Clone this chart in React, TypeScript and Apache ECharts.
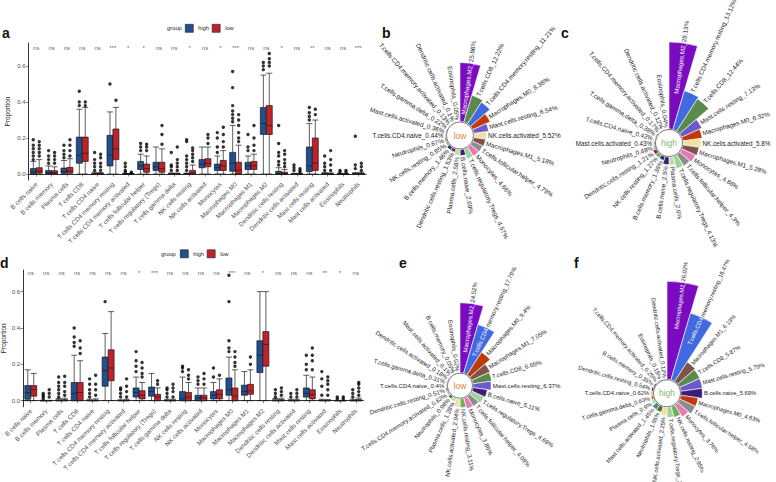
import React, { useEffect, useRef } from "react";
import * as echarts from "echarts";

const FONT = '"Liberation Sans", Arial, sans-serif';
const HIGH_COLOR = "#21508F";
const LOW_COLOR = "#C1222A";

const boxCategories = [
  "B cells naive", "B cells memory", "Plasma cells", "T cells CD8", "T cells CD4 naive",
  "T cells CD4 memory resting", "T cells CD4 memory activated", "T cells follicular helper",
  "T cells regulatory (Tregs)", "T cells gamma delta", "NK cells resting", "NK cells activated",
  "Monocytes", "Macrophages M0", "Macrophages M1", "Macrophages M2", "Dendritic cells resting",
  "Dendritic cells activated", "Mast cells resting", "Mast cells activated", "Eosinophils", "Neutrophils",
];
const groupNames = ["high", "low"];
const yTicks = [0, 0.2, 0.4, 0.6];

// ---------- panel a (min, Q1, median, Q3, max) ----------
const boxAHigh = [
  [0, 0.003, 0.012, 0.03, 0.07], [0, 0.002, 0.008, 0.02, 0.045], [0, 0.004, 0.014, 0.033, 0.075],
  [0, 0.06, 0.105, 0.205, 0.36], [0, 0, 0, 0.004, 0.01], [0, 0.045, 0.105, 0.215, 0.345],
  [0, 0, 0, 0, 0.002], [0, 0.025, 0.045, 0.07, 0.11], [0, 0.02, 0.04, 0.065, 0.15],
  [0, 0, 0, 0.002, 0.006], [0, 0, 0, 0.002, 0.005], [0, 0.035, 0.055, 0.08, 0.15],
  [0, 0.02, 0.035, 0.055, 0.1], [0, 0.015, 0.06, 0.12, 0.27], [0, 0.025, 0.045, 0.065, 0.1],
  [0, 0.22, 0.28, 0.37, 0.55], [0, 0, 0.003, 0.015, 0.035], [0, 0, 0, 0, 0.004],
  [0, 0.013, 0.045, 0.15, 0.28], [0, 0, 0, 0.003, 0.008], [0, 0, 0, 0, 0.002], [0, 0, 0, 0.003, 0.008],
];
const boxALow = [
  [0, 0.005, 0.015, 0.035, 0.08], [0, 0.002, 0.007, 0.018, 0.04], [0, 0.005, 0.017, 0.037, 0.085],
  [0, 0.07, 0.115, 0.205, 0.37], [0, 0, 0, 0.003, 0.008], [0, 0.08, 0.14, 0.25, 0.37],
  [0, 0, 0, 0, 0.002], [0, 0.01, 0.03, 0.055, 0.1], [0, 0.01, 0.03, 0.065, 0.14],
  [0, 0, 0, 0.002, 0.005], [0, 0, 0.005, 0.02, 0.05], [0, 0.04, 0.06, 0.085, 0.15],
  [0, 0.02, 0.045, 0.075, 0.13], [0, 0, 0.02, 0.065, 0.16], [0, 0.025, 0.045, 0.07, 0.11],
  [0, 0.22, 0.27, 0.38, 0.56], [0, 0, 0.002, 0.01, 0.025], [0, 0, 0, 0, 0.003],
  [0, 0.02, 0.06, 0.2, 0.3], [0, 0, 0, 0.002, 0.006], [0, 0, 0, 0, 0.002], [0, 0, 0, 0.004, 0.01],
];
const outAHigh = [
  [0.08, 0.1, 0.12, 0.14, 0.16, 0.19], [0.06, 0.08, 0.1, 0.13], [0.09, 0.11, 0.13, 0.16],
  [0.38, 0.4, 0.46], [0.02, 0.04, 0.06, 0.08, 0.12], [0.5],
  [0.01, 0.02, 0.04, 0.06], [0.13, 0.15, 0.17], [],
  [0.02, 0.04, 0.05, 0.12], [0.02, 0.04, 0.06, 0.08, 0.1, 0.18, 0.19], [],
  [0.12, 0.15, 0.2, 0.23], [0.29, 0.31, 0.33, 0.35, 0.38, 0.48, 0.57], [0.13, 0.15, 0.22],
  [0.58, 0.6, 0.62], [0.05, 0.07, 0.1, 0.12, 0.17, 0.27], [0.02, 0.035, 0.05],
  [0.3, 0.32, 0.34, 0.37], [0.02, 0.04, 0.06, 0.1], [0.01, 0.02], [0.03, 0.05, 0.21],
];
const outALow = [
  [0.1, 0.12, 0.14, 0.16, 0.18], [0.06, 0.08, 0.1, 0.12], [0.1, 0.13, 0.16, 0.19],
  [0.38, 0.4], [0.02, 0.04, 0.06, 0.09, 0.11], [0.41],
  [0.005, 0.01], [0.13, 0.15, 0.165], [0.165, 0.22, 0.27],
  [0.02, 0.04, 0.06, 0.08, 0.15], [0.07, 0.09, 0.11, 0.13, 0.145], [0.17, 0.2, 0.22],
  [0.15, 0.18, 0.22, 0.26], [0.18, 0.2, 0.23, 0.27, 0.3, 0.33], [0.13, 0.16, 0.2, 0.27],
  [0.6, 0.62, 0.64, 0.67], [0.04, 0.06, 0.08, 0.11, 0.13], [0.01, 0.02, 0.03],
  [0.33, 0.36], [0.02, 0.05, 0.08, 0.13], [0.01, 0.02], [0.02, 0.04, 0.06],
];
const sigA = ["ns", "ns", "ns", "ns", "ns", "***", "*", "*", "ns", "ns", "*", "ns", "*", "***", "ns", "ns", "*", "ns", "**", "ns", "ns", "***"];

// ---------- panel d ----------
const boxDHigh = [
  [0, 0.008, 0.044, 0.083, 0.17], [0, 0, 0, 0, 0.002], [0, 0, 0, 0.005, 0.012],
  [0, 0, 0.04, 0.1, 0.25], [0, 0, 0, 0.003, 0.008], [0, 0.08, 0.165, 0.24, 0.37],
  [0, 0, 0, 0.002, 0.005], [0, 0.02, 0.045, 0.07, 0.13], [0, 0.025, 0.05, 0.075, 0.15],
  [0, 0, 0, 0.003, 0.008], [0, 0, 0.01, 0.05, 0.13], [0, 0, 0.015, 0.03, 0.07],
  [0, 0.01, 0.03, 0.05, 0.1], [0, 0.03, 0.06, 0.125, 0.24], [0, 0.03, 0.05, 0.085, 0.16],
  [0, 0.155, 0.25, 0.33, 0.6], [0, 0, 0, 0.005, 0.012], [0, 0, 0, 0.003, 0.008],
  [0, 0.02, 0.04, 0.07, 0.14], [0, 0, 0, 0.003, 0.008], [0, 0, 0, 0, 0.002], [0, 0, 0, 0.003, 0.008],
];
const boxDLow = [
  [0, 0.025, 0.06, 0.083, 0.15], [0, 0, 0, 0, 0.002], [0, 0, 0, 0.006, 0.014],
  [0, 0, 0.045, 0.1, 0.22], [0, 0, 0, 0.004, 0.01], [0, 0.11, 0.18, 0.28, 0.49],
  [0, 0, 0, 0.003, 0.008], [0, 0.01, 0.03, 0.055, 0.1], [0, 0, 0.02, 0.035, 0.07],
  [0, 0, 0, 0.003, 0.008], [0, 0, 0.02, 0.045, 0.1], [0, 0, 0.015, 0.03, 0.07],
  [0, 0.01, 0.035, 0.06, 0.12], [0, 0, 0.025, 0.07, 0.17], [0, 0.035, 0.055, 0.09, 0.17],
  [0, 0.19, 0.31, 0.38, 0.6], [0, 0, 0, 0.006, 0.014], [0, 0, 0, 0.003, 0.008],
  [0, 0.01, 0.035, 0.06, 0.13], [0, 0, 0, 0.003, 0.006], [0, 0, 0, 0, 0.002], [0, 0, 0, 0.006, 0.015],
];
const outDHigh = [
  [], [0.01, 0.02, 0.03, 0.04], [0.02, 0.04, 0.06, 0.08, 0.1, 0.13],
  [0.3, 0.32, 0.35, 0.4], [0.02, 0.04, 0.06, 0.09, 0.12], [0.545],
  [0.02, 0.04, 0.06, 0.07], [0.16, 0.19, 0.22, 0.27], [],
  [0.02, 0.04, 0.06, 0.07], [0.16, 0.18, 0.19], [0.09, 0.11, 0.13],
  [0.13, 0.18], [0.27, 0.29, 0.33, 0.545, 0.69], [],
  [], [0.02, 0.04, 0.06], [0.02, 0.04],
  [0.17, 0.2, 0.25], [0.03, 0.08, 0.12, 0.16], [0.01, 0.02], [0.02, 0.04, 0.06],
];
const outDLow = [
  [], [0.02, 0.04, 0.06], [0.03, 0.05, 0.08, 0.1, 0.135],
  [0.26, 0.29, 0.33], [0.03, 0.06, 0.09, 0.14], [],
  [0.02, 0.05, 0.08, 0.12], [0.13, 0.15, 0.18, 0.21], [0.09, 0.11],
  [0.02, 0.05, 0.07, 0.09], [0.12, 0.14, 0.17], [0.09, 0.12, 0.15],
  [0.14], [0.19, 0.21, 0.24, 0.27], [0.2, 0.24],
  [], [0.03, 0.05, 0.07], [0.02, 0.04, 0.06],
  [0.17, 0.22, 0.25, 0.29], [0.03, 0.06, 0.09, 0.11, 0.13], [0.01, 0.02], [0.03, 0.05, 0.07, 0.09, 0.1],
];
const sigD = ["ns", "ns", "ns", "ns", "ns", "ns", "ns", "*", "***", "ns", "ns", "ns", "ns", "***", "ns", "*", "ns", "ns", "ns", "**", "*", "ns"];

// ---------- circular bar panels (percent) ----------
const pieBNames = ["Macrophages.M2", "T.cells.CD8", "T.cells.CD4.memory.resting", "Macrophages.M0", "Mast.cells.resting", "NK.cells.activated", "Macrophages.M1", "T.cells.follicular.helper", "Monocytes", "T.cells.regulatory.Tregs", "B.cells.naive", "Plasma.cells", "Dendritic.cells.resting", "B.cells.memory", "NK.cells.resting", "Neutrophils", "T.cells.CD4.naive", "Mast.cells.activated", "T.cells.gamma.delta", "T.cells.CD4.memory.activated", "Dendritic.cells.activated", "Eosinophils"];
const pieBValues = [25.86, 12.22, 11.21, 8.38, 6.54, 5.52, 5.18, 4.79, 4.66, 4.57, 2.69, 2.58, 1.53, 1.46, 0.85, 0.67, 0.44, 0.36, 0.22, 0.13, 0.1, 0.05];

const pieCNames = ["Macrophages.M2", "T.cells.CD4.memory.resting", "T.cells.CD8", "Mast.cells.resting", "Macrophages.M0", "NK.cells.activated", "Macrophages.M1", "Monocytes", "T.cells.follicular.helper", "T.cells.regulatory.Tregs", "Plasma.cells", "B.cells.naive", "B.cells.memory", "NK.cells.resting", "Dendritic.cells.resting", "Neutrophils", "Mast.cells.activated", "T.cells.CD4.naive", "T.cells.gamma.delta", "T.cells.CD4.memory.activated", "Dendritic.cells.activated", "Eosinophils"];
const pieCValues = [28.13, 13.12, 12.44, 7.13, 6.32, 5.8, 5.28, 4.86, 4.3, 4.13, 2.6, 2.5, 1.36, 1.27, 1.21, 0.48, 0.43, 0.42, 0.38, 0.17, 0.12, 0.04];

const pieENames = ["Macrophages.M2", "T.cells.CD4.memory.resting", "Macrophages.M0", "Macrophages.M1", "T.cells.CD8", "Mast.cells.resting", "B.cells.naive", "T.cells.regulatory.Tregs", "T.cells.follicular.helper", "Monocytes", "NK.cells.resting", "NK.cells.activated", "Plasma.cells", "Neutrophils", "T.cells.CD4.memory.activated", "Dendritic.cells.resting", "T.cells.CD4.naive", "T.cells.gamma.delta", "Dendritic.cells.activated", "Mast.cells.activated", "B.cells.memory", "Eosinophils"];
const pieEValues = [24.52, 17.79, 9.4, 7.05, 6.65, 6.37, 5.11, 4.69, 4.08, 3.86, 3.11, 2.94, 1.28, 0.96, 0.62, 0.51, 0.4, 0.31, 0.18, 0.1, 0.05, 0.02];

const pieFNames = ["Macrophages.M2", "T.cells.CD4.memory.resting", "Macrophages.M1", "T.cells.CD8", "Mast.cells.resting", "B.cells.naive", "Macrophages.M0", "T.cells.follicular.helper", "Monocytes", "NK.cells.resting", "T.cells.regulatory.Tregs", "NK.cells.activated", "Neutrophils", "Mast.cells.activated", "Plasma.cells", "T.cells.gamma.delta", "T.cells.CD4.naive", "Dendritic.cells.resting", "B.cells.memory", "T.cells.CD4.memory.activated", "Eosinophils", "Dendritic.cells.activated"];
const pieFValues = [26.02, 18.47, 6.19, 5.87, 5.79, 5.69, 4.63, 4.58, 3.76, 2.95, 2.71, 2.25, 1.55, 1.45, 0.9, 0.63, 0.62, 0.54, 0.35, 0.25, 0.15, 0.12];

const cellColors: Record<string, string> = {
  "Macrophages.M2": "#7A0BC0",
  "T.cells.CD8": "#5B8A4F",
  "T.cells.CD4.memory.resting": "#4169E1",
  "Macrophages.M0": "#C0390B",
  "Mast.cells.resting": "#6A5ACD",
  "NK.cells.activated": "#F3DFA2",
  "Macrophages.M1": "#7E5548",
  "T.cells.follicular.helper": "#8C8C8C",
  "Monocytes": "#E879B8",
  "T.cells.regulatory.Tregs": "#9ED39A",
  "B.cells.naive": "#3D1C7A",
  "Plasma.cells": "#B8E0A0",
  "Dendritic.cells.resting": "#8B2252",
  "B.cells.memory": "#2E2E6E",
  "NK.cells.resting": "#6FAF5A",
  "Neutrophils": "#556B2F",
  "T.cells.CD4.naive": "#F0C040",
  "Mast.cells.activated": "#4B8B8B",
  "T.cells.gamma.delta": "#D2691E",
  "T.cells.CD4.memory.activated": "#C9A0DC",
  "Dendritic.cells.activated": "#708090",
  "Eosinophils": "#1A1A40",
};

let measureCtx: CanvasRenderingContext2D | null = null;
function textWidth(t: string, size: number) {
  if (!measureCtx) measureCtx = document.createElement("canvas").getContext("2d");
  if (!measureCtx) return t.length * size * 0.5;
  measureCtx.font = `${size}px ${FONT}`;
  return measureCtx.measureText(t).width;
}

function buildPie(names: string[], values: number[], center: number[], r0: number, R: number,
  splits: Record<number, number>, ctrText: string, ctrColor: string, fs: number) {
  const max = Math.max(...values);
  const data = names.map((n, i) => {
    const v = values[i];
    const rItem = r0 + (v / max) * (R - r0);
    const full = `${n}_${v}%`;
    const item: any = { name: n, value: v, itemStyle: { color: cellColors[n] || "#999" } };
    const cut = splits[i];
    if (cut != null) {
      const inner = full.slice(0, cut);
      const outer = full.slice(cut);
      const wIn = textWidth(inner, fs);
      item.labelLine = { length: rItem - R - wIn + 1 };
      item.label = { formatter: `{wt|${inner}}{dk|${outer}}` };
    } else {
      item.labelLine = { length: rItem - R + 1.5 };
    }
    return item;
  });
  return [
    {
      type: "pie", roseType: "area", center, radius: [r0, R], startAngle: 90, clockwise: true,
      avoidLabelOverlap: false, silent: true, data,
      labelLayout: { hideOverlap: false },
      itemStyle: { borderColor: "#ffffff", borderWidth: 0.6 },
      label: {
        show: true, position: "outside", rotate: "radial", fontSize: fs, fontFamily: FONT,
        color: "#1e1e1e", distanceToLabelLine: 0, overflow: "none", minMargin: 0,
        formatter: (p: any) => `${p.name}_${p.value}%`,
        rich: {
          wt: { color: "#ffffff", fontSize: fs, fontFamily: FONT },
          dk: { color: "#1e1e1e", fontSize: fs, fontFamily: FONT },
        },
      },
      labelLine: { show: false, length: 0, length2: 0 },
      emphasis: { disabled: true },
    },
    {
      type: "pie", center, radius: [0, r0 - 0.5], silent: true,
      data: [{ value: 1, name: "ctr_" + ctrText }],
      itemStyle: { color: "#ffffff", borderColor: "#555", borderWidth: 0.8 },
      label: { show: true, position: "center", formatter: ctrText, fontSize: 8.5, fontFamily: FONT, color: ctrColor },
      labelLine: { show: false },
      emphasis: { disabled: true },
    },
  ];
}

function boxSeries(gi: number, boxHigh: number[][], boxLow: number[][], outHigh: number[][], outLow: number[][], sig: string[]) {
  const pts = (out: number[][]) => out.flatMap((vals, i) => vals.map((v) => [i, v]));
  const common = { xAxisIndex: gi, yAxisIndex: gi, silent: true };
  return [
    { ...common, type: "boxplot", name: groupNames[0], data: boxHigh, boxWidth: [6, 6.5],
      itemStyle: { color: HIGH_COLOR, borderColor: "#1a1a1a", borderWidth: 0.7 } },
    { ...common, type: "boxplot", name: groupNames[1], data: boxLow, boxWidth: [6, 6.5],
      itemStyle: { color: LOW_COLOR, borderColor: "#1a1a1a", borderWidth: 0.7 } },
    { ...common, type: "scatter", data: pts(outHigh), symbolSize: 3.4, symbolOffset: [-3, 0], itemStyle: { color: "#000" } },
    { ...common, type: "scatter", data: pts(outLow), symbolSize: 3.4, symbolOffset: [3, 0], itemStyle: { color: "#000" } },
    { ...common, type: "scatter", data: sig.map((s, i) => [i, 0.7, s]), symbolSize: 0, itemStyle: { color: "transparent" },
      label: { show: true, position: "inside", formatter: (p: any) => p.value[2], fontSize: 6, fontFamily: FONT, color: "#333" } },
  ];
}

function xAxisFor(gi: number) {
  return {
    type: "category", gridIndex: gi, data: boxCategories,
    axisLine: { show: true, lineStyle: { color: "#000", width: 0.8 } },
    axisTick: { show: true, alignWithLabel: true, length: 2.5, lineStyle: { color: "#333", width: 0.6 } },
    axisLabel: { rotate: 45, interval: 0, fontSize: 6.3, fontFamily: FONT, color: "#4d4d4d", margin: 3, hideOverlap: false },
    splitLine: { show: false },
  };
}
function yAxisFor(gi: number, min: number, max: number, gap: number) {
  return {
    type: "value", gridIndex: gi, min, max,
    name: "Proportion", nameLocation: "middle", nameGap: gap, nameTextStyle: { fontSize: 6.5, fontFamily: FONT, color: "#222" },
    axisLine: { show: true, lineStyle: { color: "#000", width: 0.8 } },
    axisTick: { show: true, length: 2.5, customValues: yTicks, lineStyle: { color: "#333", width: 0.6 } },
    axisLabel: { customValues: yTicks, formatter: (v: number) => v.toFixed(1), fontSize: 6, fontFamily: FONT, color: "#4d4d4d", margin: 3 },
    splitLine: { show: false },
  };
}

function letter(t: string, x: number, y: number) {
  return { type: "text", x, y, style: { text: t, fill: "#111", font: `bold 14px ${FONT}`, verticalAlign: "middle" } };
}
function small(t: string, x: number, y: number) {
  return { type: "text", x, y, style: { text: t, fill: "#222", font: `5.8px ${FONT}`, verticalAlign: "middle" } };
}

export default function App() {
  const ref = useRef<HTMLDivElement>(null);
  useEffect(() => {
    if (!ref.current) return;
    const chart = echarts.init(ref.current, undefined, { renderer: "svg" });
    const legendCommon = {
      data: [
        { name: groupNames[0], itemStyle: { color: HIGH_COLOR, borderColor: "#1a1a1a", borderWidth: 0.6 } },
        { name: groupNames[1], itemStyle: { color: LOW_COLOR, borderColor: "#1a1a1a", borderWidth: 0.6 } },
      ],
      icon: "rect", itemWidth: 8, itemHeight: 8, itemGap: 3, selectedMode: false,
      textStyle: { fontSize: 5.6, fontFamily: FONT, color: "#222" }, padding: 0,
    };
    const option: any = {
      animation: false,
      backgroundColor: "#ffffff",
      textStyle: { fontFamily: FONT },
      grid: [
        { left: 28.6, top: 43, width: 337.4, height: 137, containLabel: false, outerBoundsMode: "none" },
        { left: 23, top: 270, width: 340.5, height: 136.7, containLabel: false, outerBoundsMode: "none" },
      ],
      xAxis: [xAxisFor(0), xAxisFor(1)],
      yAxis: [yAxisFor(0, -0.0333, 0.728, 18), yAxisFor(1, -0.033, 0.719, 16)],
      legend: [
        { ...legendCommon, left: 185, top: 24 },
        { ...legendCommon, left: 180, top: 249.5 },
      ],
      graphic: [
        letter("a", 2, 33), letter("b", 382, 33), letter("c", 561, 33),
        letter("d", 0, 263), letter("e", 399, 263), letter("f", 574, 263),
        small("group", 167, 28), small("group", 161, 253.5),
      ],
      series: [
        ...boxSeries(0, boxAHigh, boxALow, outAHigh, outALow, sigA),
        ...boxSeries(1, boxDHigh, boxDLow, outDHigh, outDLow, sigD),
        ...buildPie(pieBNames, pieBValues, [460, 135.5], 14, 73, { 0: 15 }, "low", "#E0823A", 6.4),
        ...buildPie(pieCNames, pieCValues, [669, 143], 14, 101, { 0: 15 }, "high", "#8DB574", 6.3),
        ...buildPie(pieENames, pieEValues, [460, 385.7], 13, 83, { 0: 15, 1: 12 }, "low", "#E0823A", 6.1),
        ...buildPie(pieFNames, pieFValues, [667, 393.3], 14, 112, { 0: 15, 1: 12 }, "high", "#8DB574", 5.8),
      ],
    };
    chart.setOption(option);
    return () => chart.dispose();
  }, []);
  return (
    <div
      ref={ref}
      style={{ position: "fixed", left: 0, top: 0, width: 776, height: 482, background: "#fff" }}
    />
  );
}
